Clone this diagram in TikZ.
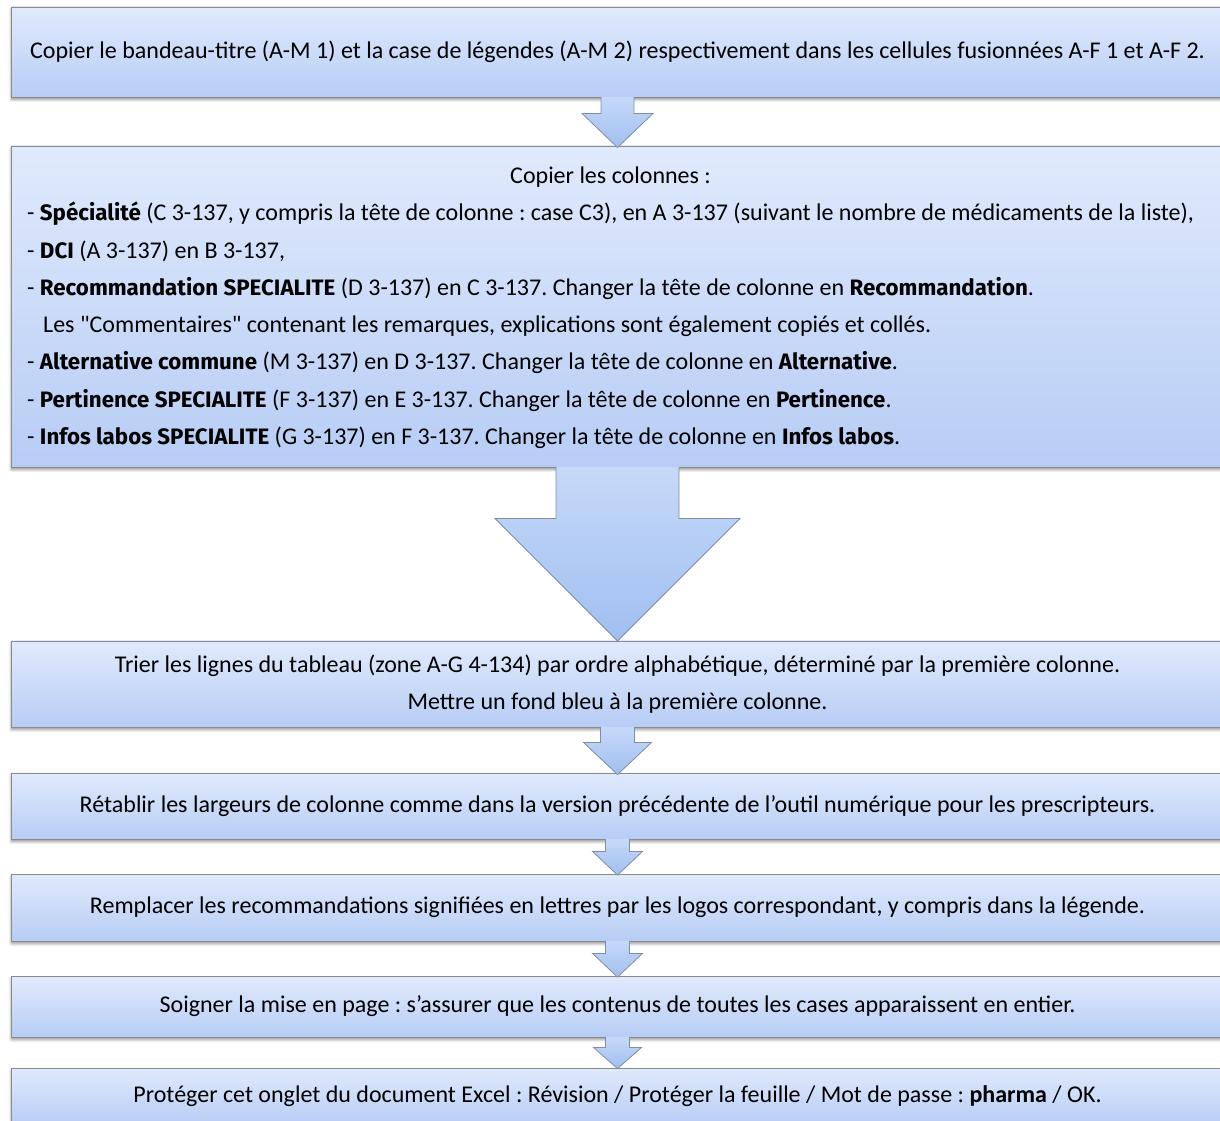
\documentclass[tikz,border=0pt]{standalone}
\usepackage{fontspec}
\setmainfont{Carlito}
\newfontfamily\comicfont{Fira Sans}[Scale=0.93]
\usetikzlibrary{calc,shadows.blur}
\frenchspacing
\definecolor{boxtop}{HTML}{E0EAFC}
\definecolor{boxbot}{HTML}{B7CDF5}
\definecolor{boxline}{HTML}{8A8A8A}
\definecolor{arrtop}{HTML}{C6D9F9}
\definecolor{arrbot}{HTML}{A0BFF0}
\definecolor{arrline}{HTML}{7F8EA6}
\newcommand\cbf[1]{{\comicfont\bfseries #1}}
\newcommand\blockarr[6]{%
  \draw[blockarrow] let \p1=(#1.south), \p2=(#2.north) in
    (\x1-#3,\y1+0.5) -- (\x1-#3,\y1-#5) -- (\x1-#4,\y1-#5) -- (\x1,\y2-#6)
    -- (\x1+#4,\y1-#5) -- (\x1+#3,\y1-#5) -- (\x1+#3,\y1+0.5);
}
\begin{document}
\begin{tikzpicture}[x=1pt,y=1pt,
  stepbox/.style={draw=boxline, line width=0.9pt, top color=boxtop, bottom color=boxbot,
    minimum width=1213pt, inner sep=0pt, align=center,
    font=\fontsize{24}{37.3}\selectfont,
    blur shadow={shadow xshift=0.5pt, shadow yshift=-2.5pt, shadow blur radius=3pt, shadow opacity=45}},
  boxtext/.style={inner sep=0pt, font=\fontsize{24}{37.3}\selectfont},
  blockarrow/.style={draw=arrline, line width=0.8pt, top color=arrtop, bottom color=arrbot, line join=miter}
]
\useasboundingbox (0,0) rectangle (1220,1120);
\clip (0,0) rectangle (1220,1120);

\node[stepbox, minimum height=90pt] (b1) at (617.5,1068)
  {Copier le bandeau-titre (A-M 1) et la case de légendes (A-M 2) respectivement dans les cellules fusionnées A-F 1 et A-F 2.};
\node[stepbox, minimum height=321pt] (b2) at (617.5,813.5) {};
\node[boxtext, anchor=west] (b2text) at (27,813.5) {%
  \begin{tabular}{@{}l@{}}
  \multicolumn{1}{@{}c@{}}{Copier les colonnes :}\\
  - \cbf{Spécialité} (C 3-137, y compris la tête de colonne : case C3), en A 3-137 (suivant le nombre de médicaments de la liste),\\
  - \cbf{DCI} (A 3-137) en B 3-137,\\
  - \cbf{Recommandation SPECIALITE} (D 3-137) en C 3-137. Changer la tête de colonne en \cbf{Recommandation}.\\
  \hspace{16pt}Les \textquotedbl Commentaires\textquotedbl{} contenant les remarques, explications sont également copiés et collés.\\
  - \cbf{Alternative commune} (M 3-137) en D 3-137. Changer la tête de colonne en \cbf{Alternative}.\\
  - \cbf{Pertinence SPECIALITE} (F 3-137) en E 3-137. Changer la tête de colonne en \cbf{Pertinence}.\\
  - \cbf{Infos labos SPECIALITE} (G 3-137) en F 3-137. Changer la tête de colonne en \cbf{Infos labos}.
  \end{tabular}};
\node[stepbox, minimum height=86pt] (b3) at (617.5,436)
  {Trier les lignes du tableau (zone A-G 4-134) par ordre alphabétique, déterminé par la première colonne.\\
   Mettre un fond bleu à la première colonne.};
\node[stepbox, minimum height=66pt] (b4) at (617.5,314)
  {Rétablir les largeurs de colonne comme dans la version précédente de l’outil numérique pour les prescripteurs.};
\node[stepbox, minimum height=67pt] (b5) at (617.5,212.5)
  {Remplacer les recommandations signifiées en lettres par les logos correspondant, y compris dans la légende.};
\node[stepbox, minimum height=61pt] (b6) at (617.5,113.5)
  {Soigner la mise en page : s’assurer que les contenus de toutes les cases apparaissent en entier.};
\node[stepbox, minimum height=56pt] (b7) at (617.5,24)
  {Protéger cet onglet du document Excel : Révision / Protéger la feuille / Mot de passe : \textbf{pharma} / OK.};

\blockarr{b1}{b2}{16.5}{35.5}{16}{2}
\blockarr{b2}{b3}{61.5}{122.5}{51}{0.5}
\blockarr{b3}{b4}{17}{34}{15}{2}
\blockarr{b4}{b5}{12}{25}{12}{1.5}
\blockarr{b5}{b6}{12}{25}{12}{1.5}
\blockarr{b6}{b7}{12}{24}{10}{1}
\end{tikzpicture}
\end{document}
